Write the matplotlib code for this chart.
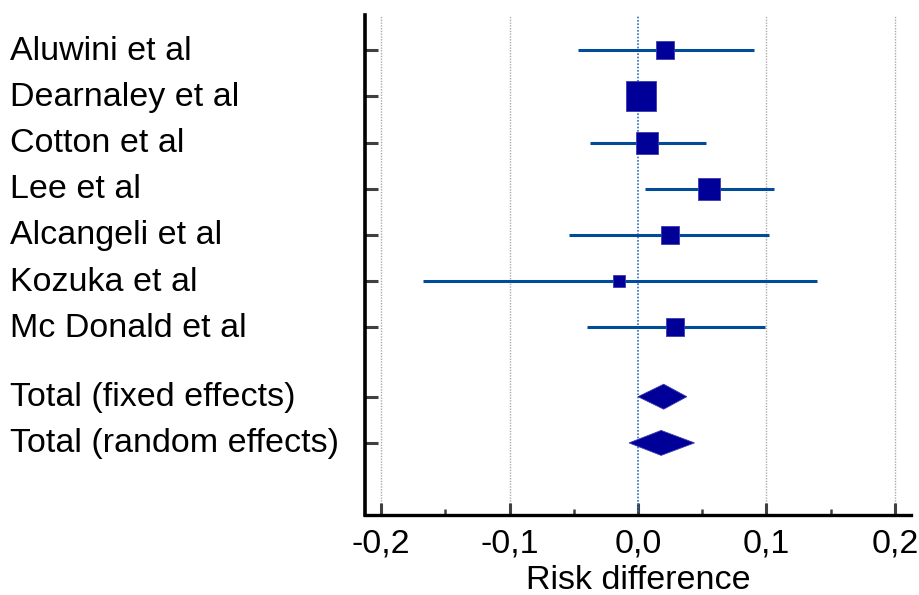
import matplotlib
matplotlib.use("Agg")
import matplotlib.pyplot as plt
from matplotlib.patches import Polygon
from matplotlib.ticker import FuncFormatter, MultipleLocator
import matplotlib.transforms as mtransforms

# ---- data ----
studies = ["Aluwini et al", "Dearnaley et al", "Cotton et al", "Lee et al",
           "Alcangeli et al", "Kozuka et al", "Mc Donald et al"]
rd = [0.021, 0.0023, 0.007, 0.055, 0.025, -0.015, 0.029]
ci_low = [-0.047, -0.008, -0.037, 0.0054, -0.054, -0.167, -0.040]
ci_high = [0.090, 0.012, 0.053, 0.106, 0.102, 0.139, 0.099]
weights = [11.6, 28.8, 15.5, 15.5, 11.6, 5.4, 11.6]

pooled_labels = ["Total (fixed effects)", "Total (random effects)"]
pooled_est = [0.020, 0.018]
pooled_low = [0.000, -0.007]
pooled_high = [0.038, 0.044]

xticks = [-0.2, -0.1, 0.0, 0.1, 0.2]
xlabel = "Risk difference"

# ---- figure ----
W, H = 919, 595
fig = plt.figure(figsize=(W / 100, H / 100), dpi=100)
ax = fig.add_axes([365 / W, 1 - 515 / H, (911 - 365) / W, (515 - 15) / H])

font = "Liberation Sans"
fs = 24.5
navy = "#000099"
ci_col = "#004C99"

study_y = list(range(1, len(studies) + 1))
pooled_y = [len(studies) + 1.5, len(studies) + 2.5]

ax.set_xlim(-0.2125, 0.2125)
ax.set_ylim(11.06, 0.24)

# grid
for t in xticks:
    if t != 0:
        ax.axvline(t, color="#aaaaaa", lw=1.0, ls=(0, (1, 1)), zorder=1)
ax.axvline(0, color="#2a6ebb", lw=1.2, ls=(0, (1, 1)), zorder=2)

# study CIs and squares
for y, m, lo, hi, w in zip(study_y, rd, ci_low, ci_high, weights):
    ax.plot([lo, hi], [y, y], color=ci_col, lw=2.2, solid_capstyle="butt", zorder=3)
    ms = 4.0 * w ** 0.5
    ax.plot([m], [y], marker="s", ms=ms, color=navy, mec="#3a3ab0", mew=0.6, zorder=4)

# pooled diamonds
hh = 0.27
for y, m, lo, hi in zip(pooled_y, pooled_est, pooled_low, pooled_high):
    poly = Polygon([[lo, y], [m, y - hh], [hi, y], [m, y + hh]], closed=True,
                   facecolor=navy, edgecolor="#3a3ab0", lw=0.6, zorder=4)
    ax.add_patch(poly)

# y labels as text at the figure's left edge
trans = mtransforms.blended_transform_factory(fig.transFigure, ax.transData)
for y, lab in zip(study_y + pooled_y, studies + pooled_labels):
    ax.text(10 / W, y + 0.02, lab, transform=trans, ha="left", va="center",
            fontsize=fs, fontfamily=font, color="black")

ax.set_yticks(study_y + pooled_y)
ax.set_yticklabels([])
ax.tick_params(axis="y", direction="in", length=9, width=2.2, color="#404040")

ax.set_xticks(xticks)
ax.xaxis.set_minor_locator(MultipleLocator(0.05))
ax.xaxis.set_major_formatter(FuncFormatter(lambda v, p: f"{v:.1f}".replace(".", ",").replace("-0,0", "0,0")))
ax.tick_params(axis="x", which="major", direction="in", length=9, width=2.2,
               color="#404040", pad=10, labelsize=fs)
ax.tick_params(axis="x", which="minor", direction="in", length=4, width=1.8, color="#404040")
for lab in ax.get_xticklabels():
    lab.set_fontfamily(font)
ax.set_xlabel(xlabel, fontsize=fs, fontfamily=font, labelpad=4)

for s in ["top", "right"]:
    ax.spines[s].set_visible(False)
ax.spines["left"].set_linewidth(2.6)
ax.spines["bottom"].set_linewidth(2.4)

fig.savefig("out.png", dpi=100)
